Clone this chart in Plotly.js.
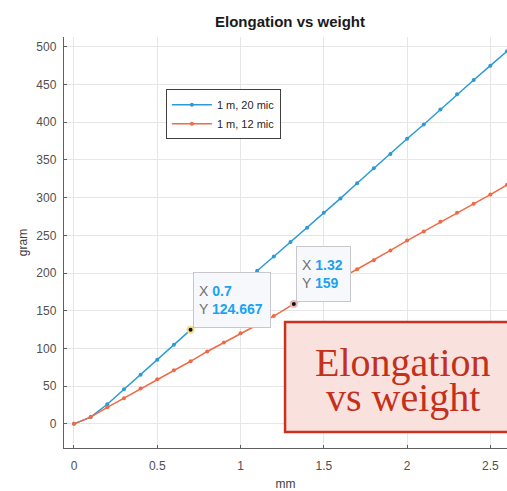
<!DOCTYPE html>
<html>
<head>
<meta charset="utf-8">
<script src="https://cdn.plot.ly/plotly-3.0.1.min.js"></script>
<style>html,body{margin:0;padding:0;background:#fff;}#chart{width:507px;height:491px;}</style>
</head>
<body>
<div id="chart"></div>
<script>
// Series: 1 m, 20 mic
const blueName = "1 m, 20 mic";
const blueX = [0, 0.1, 0.2, 0.3, 0.4, 0.5, 0.6, 0.7, 0.8, 0.9, 1.0, 1.1, 1.2, 1.3, 1.4, 1.5, 1.6, 1.7, 1.8, 1.9, 2.0, 2.1, 2.2, 2.3, 2.4, 2.5, 2.6];
const blueY = [0, 9, 26, 46, 65, 85, 105, 124.667, 144, 164, 183, 203, 222, 241, 260, 280, 299, 319, 339, 358, 378, 397, 417, 437, 456, 475, 494];
// Series: 1 m, 12 mic
const redName = "1 m, 12 mic";
const redX = [0, 0.1, 0.2, 0.3, 0.4, 0.5, 0.6, 0.7, 0.8, 0.9, 1.0, 1.1, 1.2, 1.32, 1.4, 1.5, 1.6, 1.7, 1.8, 1.9, 2.0, 2.1, 2.2, 2.3, 2.4, 2.5, 2.6];
const redY = [0, 9, 22, 34, 47, 59, 71, 83, 96, 108, 120, 131, 143, 159, 169, 181, 193, 205, 217, 230, 243, 255, 268, 280, 292, 304, 317];
// Data tips
const tipX = [0.7, 1.32];
const tipY = [124.667, 159];
// Axis ticks
const xTicks = [0, 0.5, 1, 1.5, 2, 2.5];
const xTickText = ["0", "0.5", "1", "1.5", "2", "2.5"];
const yTicks = [0, 50, 100, 150, 200, 250, 300, 350, 400, 450, 500];
const yTickText = ["0", "50", "100", "150", "200", "250", "300", "350", "400", "450", "500"];
const chartTitle = "Elongation vs weight";
const xTitle = "mm";
const yTitle = "gram";
const boxLines = ["Elongation", "vs weight"];

const blue = "#2b9ad6";
const red = "#f06a45";
const tickFont = {family: "Liberation Sans, Arial, sans-serif", size: 12, color: "#505050"};

const traces = [
  {x: blueX, y: blueY, name: blueName, type: "scatter", mode: "lines+markers",
   line: {color: blue, width: 1.5}, marker: {color: blue, size: 4}},
  {x: redX, y: redY, name: redName, type: "scatter", mode: "lines+markers",
   line: {color: red, width: 1.5}, marker: {color: red, size: 4}},
  {x: tipX, y: tipY, type: "scatter", mode: "markers", showlegend: false, hoverinfo: "skip",
   marker: {color: "#111111", size: 6, line: {color: ["#f3dc8e", "#e8b8c0"], width: 2}}}
];

function tipText(xv, yv) {
  return "<span style='color:#707070'>X</span> <b style='color:#1aa3f0'>" + xv + "</b><br>" +
         "<span style='color:#707070'>Y</span> <b style='color:#1aa3f0'>" + yv + "</b>";
}

const tipWidths = [66, 43];
const annotations = [];
for (let i = 0; i < tipX.length; i++) {
  annotations.push({
    x: tipX[i], y: tipY[i], xref: "x", yref: "y", showarrow: false,
    xanchor: "left", yanchor: "bottom", xshift: 2, yshift: 2,
    text: tipText(tipX[i], tipY[i]), align: "left", valign: "middle",
    width: tipWidths[i], height: 44,
    font: {family: "Liberation Sans, Arial, sans-serif", size: 14, color: "#707070"},
    bgcolor: "#f7f8fc", bordercolor: "#c8c8cc", borderwidth: 1, borderpad: 5
  });
}
annotations.push({
  x: 0.765, y: 0.208, xref: "paper", yref: "paper", showarrow: false,
  xanchor: "center", yanchor: "middle", text: boxLines[0],
  font: {family: "Liberation Serif, Times New Roman, serif", size: 40, color: "#c4301c"}
});
annotations.push({
  x: 0.765, y: 0.122, xref: "paper", yref: "paper", showarrow: false,
  xanchor: "center", yanchor: "middle", text: boxLines[1],
  font: {family: "Liberation Serif, Times New Roman, serif", size: 40, color: "#c4301c"}
});
annotations.push({
  x: 0.51, y: 1.0365, xref: "paper", yref: "paper", showarrow: false,
  xanchor: "center", yanchor: "middle", text: "<b>" + chartTitle + "</b>",
  font: {family: "Liberation Sans, Arial, sans-serif", size: 15, color: "#1a1a1a"}
});

const layout = {
  width: 507, height: 491,
  margin: {l: 64, r: 0, t: 37, b: 43, pad: 0},
  paper_bgcolor: "#ffffff", plot_bgcolor: "#ffffff",
  showlegend: true,
  legend: {x: 0.23, y: 0.873, xanchor: "left", yanchor: "top",
    bgcolor: "#ffffff", bordercolor: "#404040", borderwidth: 1,
    font: {family: "Liberation Sans, Arial, sans-serif", size: 11, color: "#262626"},
    itemwidth: 40, tracegroupgap: 0},
  xaxis: {range: [-0.06, 2.6], tickvals: xTicks, ticktext: xTickText,
    showgrid: true, gridcolor: "#e6e6e6", zeroline: false,
    showline: true, linecolor: "#606060", linewidth: 1.2,
    ticks: "inside", ticklen: 3, tickcolor: "#606060",
    tickfont: tickFont, ticklabelstandoff: 6, automargin: false,
    title: {text: xTitle, font: {family: "Liberation Sans, Arial, sans-serif", size: 12, color: "#404040"}, standoff: 18}},
  yaxis: {range: [-32, 513], tickvals: yTicks, ticktext: yTickText,
    showgrid: true, gridcolor: "#e6e6e6", zeroline: false,
    showline: true, linecolor: "#606060", linewidth: 1.2,
    ticks: "inside", ticklen: 3, tickcolor: "#606060",
    tickfont: tickFont, ticklabelstandoff: 4, automargin: false,
    title: {text: yTitle, font: {family: "Liberation Sans, Arial, sans-serif", size: 12, color: "#404040"}, standoff: 6}},
  shapes: [{type: "rect", xref: "paper", yref: "paper", layer: "above",
    x0: 0.499, x1: 1.05, y0: 0.039, y1: 0.3066,
    fillcolor: "#f9e1dd", line: {color: "#c8321e", width: 2.5}}],
  annotations: annotations
};

Plotly.newPlot("chart", traces, layout, {displayModeBar: false, staticPlot: true});
</script>
</body>
</html>
